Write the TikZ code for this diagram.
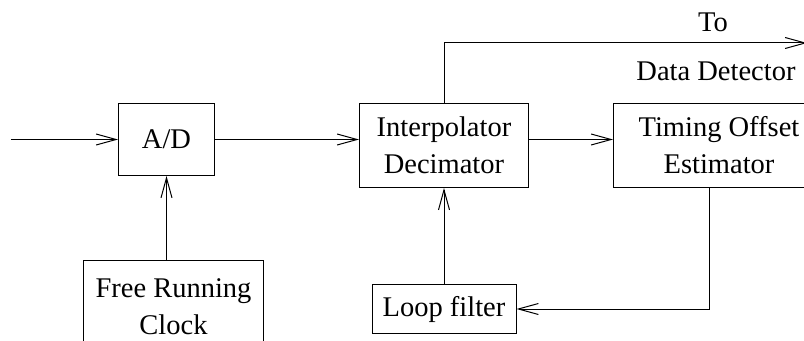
\documentclass[tikz,border=0pt]{standalone}
\usepackage{fontspec}
\setmainfont{Liberation Serif}
\usetikzlibrary{arrows.meta,positioning}

\begin{document}
\begin{tikzpicture}[
  font=\fontsize{11.4}{14.8}\selectfont,
  blk/.style={draw,thin,align=center,inner sep=2pt},
  lb/.style={inner sep=0pt,anchor=base},
  ar/.style={-{Straight Barb[length=8pt,width=4.4pt]},thin}]
\node[blk,minimum width=38.4pt,minimum height=28.8pt] (ad) {A/D};
\useasboundingbox ([xshift=-47.2pt,yshift=41.2pt]ad.north west) rectangle ++(321.6pt,-136.4pt);
\node[blk,minimum width=67.6pt,minimum height=33.6pt,right=57.6pt of ad.north east,anchor=north west] (ip) {Interpolator\\Decimator};
\node[blk,minimum width=84.4pt,minimum height=33.6pt,right=33.6pt of ip.north east,anchor=north west] (toe) {Timing Offset\\Estimator};
\node[blk,minimum width=72pt,minimum height=36.8pt,below=33.6pt of ad,xshift=2.8pt] (clk) {Free Running\\Clock};
\node[blk,minimum width=57.6pt,minimum height=19.6pt,below=38.4pt of ip] (lf) {Loop filter};
\coordinate[left=42.8pt of ad.west] (in);
\coordinate[above=24pt of ip.north] (knee);
\coordinate[right=145.2pt of knee] (out);
\node[lb] at ([xshift=107.6pt,yshift=4.4pt]knee) {To};
\node[lb] at ([xshift=108.8pt,yshift=-14.8pt]knee) {Data Detector};
\draw[ar] (in) -- (ad);
\draw[ar] (ad) -- (ad -| ip.west);
\draw[ar] (ad -| ip.east) -- (ad -| toe.west);
\draw[ar] (clk.north -| ad) -- (ad);
\draw[ar] (lf) -- (ip);
\draw[ar] ([xshift=38.4pt]toe.south west) |- (lf);
\draw[ar] (ip) -- (knee) -- (out);
\end{tikzpicture}
\end{document}
